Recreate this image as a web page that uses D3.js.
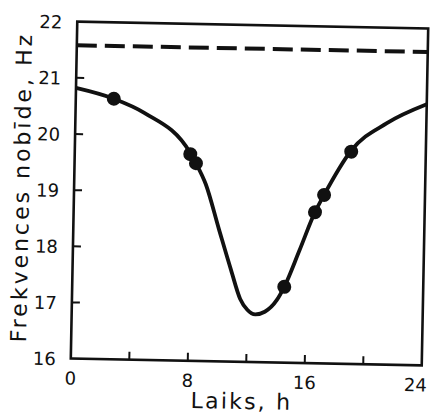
<!DOCTYPE html>
<html>
<head>
<meta charset="utf-8">
<script src="https://d3js.org/d3.v7.min.js"></script>
<style>
  body { margin: 0; background: #fff; }
  text { font-family: "DejaVu Sans", sans-serif; fill: #111; }
</style>
</head>
<body>
<div id="chartContainer"></div>
<script type="text/javascript">
// fitted curve
var curveHours = [0, 2.6, 4.7, 7.9, 8.3, 9.0, 9.95, 10.84, 11.5, 12.0, 12.55, 13.2, 14.0, 14.5, 15.5, 16.5, 17.1, 18.9, 21.3, 24];
var curveFreq  = [20.82, 20.64, 20.40, 19.70, 19.52, 19.15, 18.36, 17.63, 17.12, 16.93, 16.85, 16.90, 17.11, 17.35, 18.01, 18.69, 19.0, 19.80, 20.30, 20.65];
// measured points
var obsHours = [2.6, 7.9, 8.3, 14.5, 16.5, 17.1, 18.9];
var obsFreq  = [20.64, 19.68, 19.52, 17.35, 18.69, 19.0, 19.78];
// dashed reference level
var refHours = [0, 24];
var refFreq  = [21.58, 21.58];

var xTickLabels = [0, 8, 16, 24];
var xMinorTicks = [4, 8, 12, 16, 20];
var yTickLabels = [16, 17, 18, 19, 20, 21, 22];
var yMinorTicks = [17, 18, 19, 20, 21];

var W = 430, H = 416;
var pL = 74, pR = 425, pT = 25, pB = 362; // plot box

var svg = d3.select("#chartContainer").append("svg")
    .attr("width", W).attr("height", H);
svg.append("rect").attr("width", W).attr("height", H).attr("fill", "#fff");

// the scan is turned a little clockwise
var g = svg.append("g")
    .attr("transform", "rotate(1.1," + (pL + pR) / 2 + "," + (pT + pB) / 2 + ")");

var x = d3.scaleLinear().domain([0, 24]).range([pL, pR]);
var y = d3.scaleLinear().domain([16, 22]).range([pB, pT]);

// frame
g.append("rect")
    .attr("x", pL).attr("y", pT)
    .attr("width", pR - pL).attr("height", pB - pT)
    .attr("fill", "none").attr("stroke", "#111").attr("stroke-width", 2.6);

// inward ticks
g.selectAll(".xt").data(xMinorTicks).enter().append("line")
    .attr("x1", d => x(d)).attr("x2", d => x(d))
    .attr("y1", pB).attr("y2", pB - 8)
    .attr("stroke", "#111").attr("stroke-width", 2);
g.selectAll(".yt").data(yMinorTicks).enter().append("line")
    .attr("x1", pL).attr("x2", pL + 8)
    .attr("y1", d => y(d)).attr("y2", d => y(d))
    .attr("stroke", "#111").attr("stroke-width", 2);

// tick labels
g.selectAll(".xl").data(xTickLabels).enter().append("text")
    .attr("x", d => d == 24 ? x(d) - 6 : x(d)).attr("y", pB + 26)
    .attr("text-anchor", "middle").style("font-size", "18px")
    .text(d => d);
g.selectAll(".yl").data(yTickLabels).enter().append("text")
    .attr("x", pL - 15).attr("y", d => y(d) + 7)
    .attr("text-anchor", "end").style("font-size", "18px")
    .text(d => d);

// axis titles
g.append("text")
    .attr("x", (pL + pR) / 2 - 4).attr("y", pB + 47)
    .attr("text-anchor", "middle").style("font-size", "22px")
    .style("letter-spacing", "2.2px")
    .text("Laiks, h");
g.append("text")
    .attr("transform", "translate(29," + ((pT + pB) / 2 - 2) + ") rotate(-90)")
    .attr("text-anchor", "middle").style("font-size", "22px")
    .style("letter-spacing", "3px")
    .text("Frekvences nobīde, Hz");

// dashed level
var line = d3.line().x(d => x(d[0])).y(d => y(d[1]));
g.append("path")
    .datum(d3.zip(refHours, refFreq))
    .attr("d", line)
    .attr("fill", "none").attr("stroke", "#111")
    .attr("stroke-width", 4).attr("stroke-dasharray", "20,8");

// smooth curve
var curve = d3.line().x(d => x(d[0])).y(d => y(d[1])).curve(d3.curveMonotoneX);
g.append("path")
    .datum(d3.zip(curveHours, curveFreq))
    .attr("d", curve)
    .attr("fill", "none").attr("stroke", "#111").attr("stroke-width", 3.8);

// points
g.selectAll(".pt").data(d3.zip(obsHours, obsFreq)).enter().append("circle")
    .attr("cx", d => x(d[0])).attr("cy", d => y(d[1]))
    .attr("r", 7).attr("fill", "#111");
</script>
</body>
</html>
